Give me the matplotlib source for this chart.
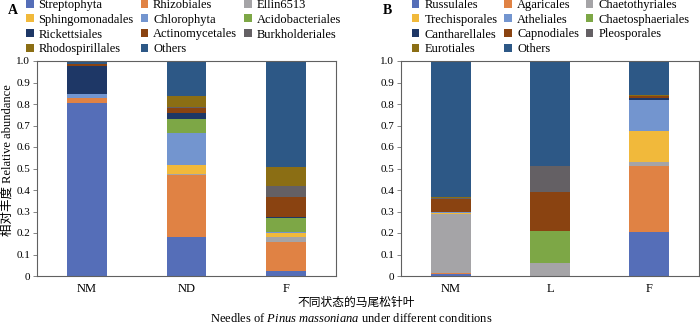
import matplotlib
matplotlib.use("Agg")
import matplotlib.pyplot as plt
from matplotlib.patches import Patch
import numpy as np

plt.rcParams['font.family'] = ['Liberation Serif', 'Noto Sans CJK SC']
plt.rcParams['mathtext.fontset'] = 'custom'
plt.rcParams['mathtext.it'] = 'Liberation Serif:italic'
plt.rcParams['mathtext.rm'] = 'Liberation Serif'

# ---- data ----
samples_a = ['NM', 'ND', 'F']
taxa_a = ['Streptophyta', 'Rhizobiales', 'Ellin6513', 'Sphingomonadales',
          'Chlorophyta', 'Acidobacteriales', 'Rickettsiales', 'Actinomycetales',
          'Burkholderiales', 'Rhodospirillales', 'Others']
# one row per taxon, columns = NM, ND, F
values_a = [
    [0.806, 0.183, 0.023],
    [0.020, 0.287, 0.135],
    [0.002, 0.004, 0.025],
    [0.002, 0.044, 0.017],
    [0.015, 0.147, 0.006],
    [0.001, 0.067, 0.062],
    [0.131, 0.028, 0.008],
    [0.007, 0.020, 0.093],
    [0.001, 0.008, 0.050],
    [0.001, 0.051, 0.090],
    [0.014, 0.161, 0.491],
]

samples_b = ['NM', 'L', 'F']
taxa_b = ['Russulales', 'Agaricales', 'Chaetothyriales', 'Trechisporales',
          'Atheliales', 'Chaetosphaeriales', 'Cantharellales', 'Capnodiales',
          'Pleosporales', 'Eurotiales', 'Others']
# columns = NM, L, F
values_b = [
    [0.008, 0.000, 0.206],
    [0.004, 0.000, 0.306],
    [0.276, 0.062, 0.018],
    [0.007, 0.000, 0.144],
    [0.001, 0.000, 0.145],
    [0.001, 0.149, 0.001],
    [0.001, 0.000, 0.009],
    [0.059, 0.180, 0.008],
    [0.007, 0.119, 0.002],
    [0.002, 0.000, 0.004],
    [0.634, 0.490, 0.157],
]

colors = ['#556EB8', '#E08244', '#A5A4A7', '#F1B93B', '#7395CF', '#7DA746',
          '#1E3766', '#8A4311', '#646064', '#8B6E14', '#2D5886']

W, H = 700, 326
fig = plt.figure(figsize=(7, 3.26), dpi=100)


def px_rect(x0, y0, x1, y1):
    return [x0 / W, 1 - y1 / H, (x1 - x0) / W, (y1 - y0) / H]


def draw_panel(rect, samples, values, taxa, letter, leg_x, letter_x):
    ax = fig.add_axes(px_rect(*rect))
    x = np.arange(len(samples))
    bottom = np.zeros(len(samples))
    handles = []
    for vals, c, name in zip(values, colors, taxa):
        vals = np.array(vals)
        ax.bar(x, vals, 0.4, bottom=bottom, color=c, edgecolor='none')
        bottom += vals
        handles.append(Patch(facecolor=c, edgecolor='none', label=name))
    ax.set_xlim(-0.5, 2.5)
    ax.set_ylim(0, 1.0)
    ax.set_xticks(x)
    ax.set_xticklabels(samples, fontsize=9)
    ax.tick_params(axis='x', length=0, pad=5)
    yt = np.round(np.arange(0, 1.01, 0.1), 1)
    ax.set_yticks(yt)
    ax.set_yticklabels(['0'] + ['%.1f' % v for v in yt[1:]], fontsize=8)
    ax.tick_params(axis='y', length=3, width=0.6, color='#707070', pad=2)
    for s in ax.spines.values():
        s.set_color('#606060')
        s.set_linewidth(0.8)

    # legend filled row by row (3 columns)
    order = [0, 3, 6, 9, 1, 4, 7, 10, 2, 5, 8]
    fig.legend([handles[i] for i in order], [taxa[i] for i in order],
               loc='upper left', bbox_to_anchor=(leg_x / W, 1 + 1 / H),
               ncol=3, frameon=False, fontsize=9, handlelength=0.6,
               handleheight=0.6, handletextpad=0.4, columnspacing=0.55,
               labelspacing=0.22, borderpad=0, borderaxespad=0)
    fig.text(letter_x / W, 1 - 11 / H, letter, fontsize=10, fontweight='bold',
             ha='center', va='center')
    return ax


draw_panel((37, 61, 336, 276), samples_a, values_a, taxa_a, 'A', 26, 13)
draw_panel((401, 61, 699, 276), samples_b, values_b, taxa_b, 'B', 412, 387)

fig.text(7.5 / W, 1 - 160 / H, '相对丰度 Relative abundance', rotation=90,
         fontsize=9, ha='center', va='center')
fig.text(356 / W, 1 - 303 / H, '不同状态的马尾松针叶', fontsize=8.5,
         ha='center', va='center')
fig.text(351 / W, 1 - 319 / H,
         r'Needles of $\mathit{Pinus\ massoniana}$ under different conditions',
         fontsize=9, ha='center', va='center')

fig.savefig('out.png', dpi=100)
